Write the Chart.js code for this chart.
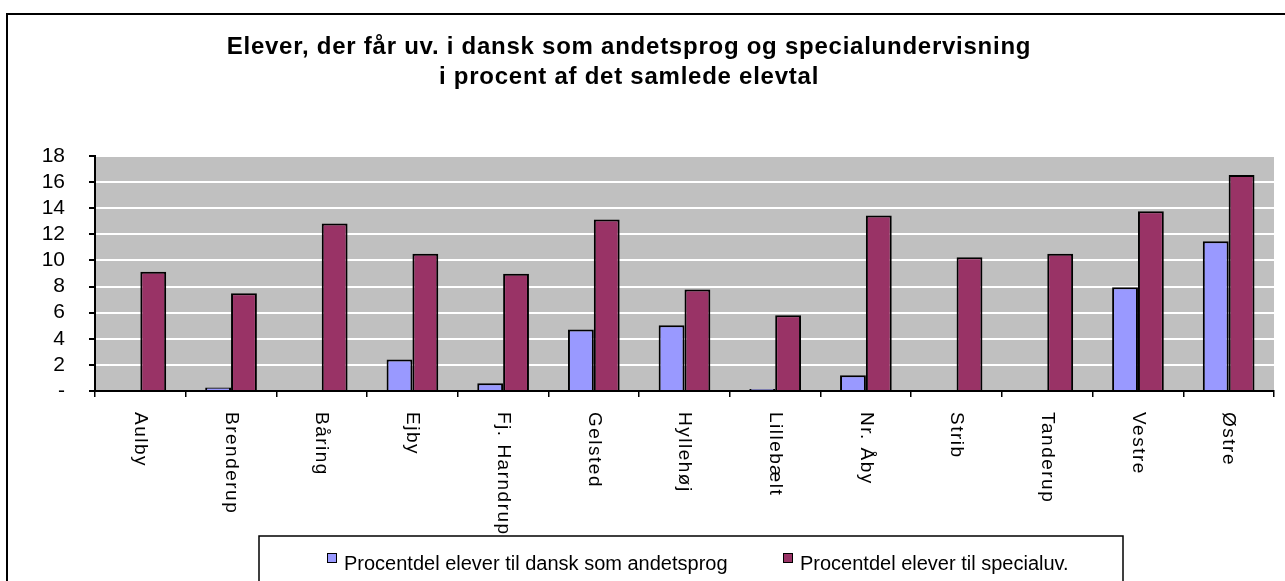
<!DOCTYPE html>
<html>
<head>
<meta charset="utf-8">
<script src="https://cdn.jsdelivr.net/npm/chart.js@4/dist/chart.umd.min.js"></script>
<style>
  html, body { margin: 0; padding: 0; background: #fff; }
  #wrap { width: 1285px; height: 581px; position: relative; }
</style>
</head>
<body>
<div id="wrap"><canvas id="chart"></canvas></div>
<script>
var titleLines = ["Elever, der får uv. i dansk som andetsprog og specialundervisning",
                  "i procent af det samlede elevtal"];
var schools = ["Aulby", "Brenderup", "Båring", "Ejby", "Fj. Harndrup", "Gelsted", "Hyllehøj",
               "Lillebælt", "Nr. Åby", "Strib", "Tanderup", "Vestre", "Østre"];
var danskAndetsprog = [0, 0.26, 0, 2.41, 0.59, 4.71, 5.04, 0.15, 1.2, 0, 0, 7.94, 11.47];
var specialUv = [9.14, 7.48, 12.83, 10.52, 8.99, 13.13, 7.78, 5.81, 13.44, 10.24, 10.52, 13.77, 16.54];
var seriesNames = ["Procentdel elever til dansk som andetsprog", "Procentdel elever til specialuv."];
var yTicks = [0, 2, 4, 6, 8, 10, 12, 14, 16, 18];

var FONT = "Arial, 'Liberation Sans', sans-serif";

// grey plot area, outer frame and title
var backdrop = {
  id: 'backdrop',
  beforeDraw: function (chart) {
    var ctx = chart.ctx, a = chart.chartArea;
    ctx.save();
    ctx.fillStyle = '#fff';
    ctx.fillRect(0, 0, chart.width, chart.height);
    ctx.fillStyle = '#c0c0c0';
    ctx.fillRect(a.left, a.top, a.right - a.left, a.bottom - a.top);
    ctx.strokeStyle = '#000';
    ctx.lineWidth = 2;
    ctx.strokeRect(7, 14, chart.width + 20, chart.height + 20);
    ctx.fillStyle = '#000';
    ctx.font = 'bold 24px ' + FONT;
    ctx.letterSpacing = '0.75px';
    ctx.textAlign = 'center';
    ctx.textBaseline = 'alphabetic';
    ctx.fillText(titleLines[0], 629, 54);
    ctx.fillText(titleLines[1], 629, 84);
    ctx.letterSpacing = '0px';
    ctx.restore();
  },
  afterDraw: function (chart) {
    var ctx = chart.ctx, x = chart.scales.x;
    ctx.save();
    // category labels, rotated clockwise
    ctx.fillStyle = '#000';
    ctx.font = '19px ' + FONT;
    ctx.letterSpacing = '1.5px';
    ctx.textAlign = 'left';
    ctx.textBaseline = 'middle';
    schools.forEach(function (name, i) {
      ctx.save();
      ctx.translate(x.getPixelForTick(i), 412);
      ctx.rotate(Math.PI / 2);
      ctx.fillText(name, 0, 0);
      ctx.restore();
    });
    ctx.letterSpacing = '0px';
    // legend box
    ctx.fillStyle = '#fff';
    ctx.fillRect(259, 536, 864, 50);
    ctx.strokeStyle = '#000';
    ctx.lineWidth = 1.5;
    ctx.strokeRect(259, 536, 864, 50);
    var lx = [327, 783];
    chart.data.datasets.forEach(function (ds, i) {
      ctx.fillStyle = ds.backgroundColor;
      ctx.fillRect(lx[i], 553, 10, 10);
      ctx.lineWidth = 1;
      ctx.strokeRect(lx[i] + 0.5, 553.5, 9, 9);
      ctx.fillStyle = '#000';
      ctx.font = '20px ' + FONT;
      ctx.textBaseline = 'alphabetic';
      ctx.fillText(ds.label, lx[i] + 17, 570);
    });
    ctx.restore();
  }
};

new Chart(document.getElementById('chart'), {
  type: 'bar',
  data: {
    labels: schools,
    datasets: [
      { label: seriesNames[0], data: danskAndetsprog, backgroundColor: '#9999ff',
        borderColor: '#000', borderWidth: 2 },
      { label: seriesNames[1], data: specialUv, backgroundColor: '#993366',
        borderColor: '#000', borderWidth: 2 }
    ]
  },
  options: {
    responsive: true,
    maintainAspectRatio: false,
    animation: false,
    categoryPercentage: 0.57,
    barPercentage: 1,
    layout: { padding: { top: 156, right: 11, left: 0, bottom: 0 } },
    plugins: { legend: { display: false }, title: { display: false }, tooltip: { enabled: false } },
    scales: {
      x: {
        offset: true,
        grid: { offset: true, drawOnChartArea: false, tickLength: 6, tickColor: '#000', lineWidth: 1.5 },
        border: { color: '#000', width: 2 },
        ticks: { display: false },
        afterFit: function (s) { s.height = 190; }
      },
      y: {
        min: 0, max: 18,
        afterBuildTicks: function (s) { s.ticks = yTicks.map(function (v) { return { value: v }; }); },
        grid: {
          color: function (c) { return c.tick && c.tick.value === 0 ? 'rgba(0,0,0,0)' : '#fff'; },
          lineWidth: 2, tickLength: 6, tickColor: '#000'
        },
        border: { color: '#000', width: 2 },
        ticks: {
          color: '#000', padding: 24, autoSkip: false,
          font: { family: FONT, size: 21 },
          callback: function (v) { return v === 0 ? '-' : v; }
        },
        afterFit: function (s) { s.width = 95; }
      }
    }
  },
  plugins: [backdrop]
});
</script>
</body>
</html>
